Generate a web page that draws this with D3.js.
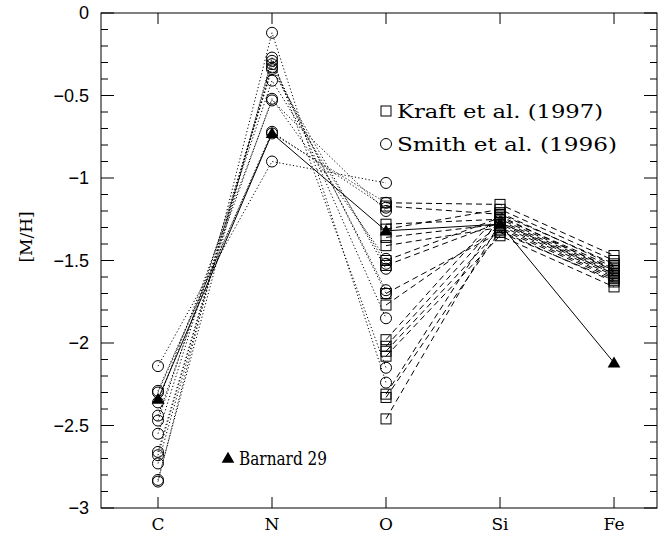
<!DOCTYPE html>
<html>
<head>
<meta charset="utf-8">
<script src="https://cdn.jsdelivr.net/npm/d3@7"></script>
<style>
  html, body { margin: 0; padding: 0; background: #fff; }
  svg { display: block; }
</style>
</head>
<body>
<svg id="chart" width="668" height="533"></svg>
<script>
// Elements along the x axis
const elements = ["C", "N", "O", "Si", "Fe"];

// Y axis ticks
const yMajorTicks = [0, -0.5, -1, -1.5, -2, -2.5, -3];
const yTickLabels = ["0", "\u22120.5", "\u22121", "\u22121.5", "\u22122", "\u22122.5", "\u22123"];

// Smith et al. (1996): [C/H], [N/H], [O/H] per star
const smithC = [-2.14, -2.29, -2.30, -2.36, -2.44, -2.47, -2.55, -2.66, -2.68, -2.73, -2.83, -2.84];
const smithN = [-0.90, -0.73, -0.72, -0.53, -0.52, -0.41, -0.34, -0.33, -0.31, -0.29, -0.27, -0.12];
const smithO = [-1.03, -1.15, -1.18, -1.20, -1.49, -1.52, -1.55, -1.68, -1.70, -1.85, -2.15, -2.24];

// Kraft et al. (1997): [O/H], [Si/H], [Fe/H] per star
const kraftO  = [-1.15, -1.17, -1.28, -1.31, -1.36, -1.41, -1.50, -1.53, -1.70, -1.77, -1.98, -2.02, -2.05, -2.08, -2.31, -2.33, -2.46];
const kraftSi = [-1.16, -1.22, -1.25, -1.19, -1.28, -1.30, -1.24, -1.27, -1.33, -1.29, -1.21, -1.26, -1.31, -1.35, -1.23, -1.32, -1.27];
const kraftFe = [-1.47, -1.52, -1.55, -1.50, -1.58, -1.60, -1.54, -1.57, -1.62, -1.59, -1.53, -1.56, -1.61, -1.66, -1.56, -1.63, -1.58];

// Barnard 29: C, N, O, Si, Fe
const barnard29 = [-2.34, -0.73, -1.32, -1.28, -2.12];

const legendLabels = ["Kraft et al. (1997)", "Smith et al. (1996)", "Barnard 29"];
const yTitle = "[M/H]";

const svg = d3.select("#chart");
const L = 101, R = 657, T = 13, B = 508;

const x = d3.scaleLinear().domain([-0.5, 4.377]).range([L, R]);
const y = d3.scaleLinear().domain([0, -3]).range([T, B]);

const serif = "'DejaVu Serif', 'Liberation Serif', serif";
const sans = "'Liberation Sans', Arial, sans-serif";

const line = d3.line().x(d => x(d[0])).y(d => y(d[1]));

// Smith stars: dotted C-N-O
const smithRows = smithC.map((c, i) => [[0, c], [1, smithN[i]], [2, smithO[i]]]);
svg.append("g").selectAll("path").data(smithRows).join("path")
  .attr("d", line).attr("fill", "none").attr("stroke", "#000")
  .attr("stroke-width", 1).attr("stroke-dasharray", "1.2,2.3");

// Kraft stars: dashed O-Si-Fe
const kraftRows = kraftO.map((o, i) => [[2, o], [3, kraftSi[i]], [4, kraftFe[i]]]);
svg.append("g").selectAll("path").data(kraftRows).join("path")
  .attr("d", line).attr("fill", "none").attr("stroke", "#000")
  .attr("stroke-width", 1).attr("stroke-dasharray", "6,4");

// Barnard 29: solid through all elements
svg.append("path").datum(barnard29.map((v, i) => [i, v]))
  .attr("d", line).attr("fill", "none").attr("stroke", "#000").attr("stroke-width", 1);

// Markers
const circ = (g, cx, cy) => g.append("circle").attr("cx", cx).attr("cy", cy).attr("r", 5.5)
  .attr("fill", "none").attr("stroke", "#000").attr("stroke-width", 1);
const sq = (g, cx, cy) => g.append("rect").attr("x", cx - 5).attr("y", cy - 5)
  .attr("width", 10).attr("height", 10).attr("fill", "none").attr("stroke", "#000").attr("stroke-width", 1);
const tri = (g, cx, cy) => g.append("path")
  .attr("d", d3.symbol(d3.symbolTriangle, 70)())
  .attr("transform", `translate(${cx},${cy + 1})`).attr("fill", "#000");

const mk = svg.append("g");
smithRows.forEach(r => r.forEach(p => circ(mk, x(p[0]), y(p[1]))));
kraftRows.forEach(r => r.forEach(p => sq(mk, x(p[0]), y(p[1]))));
barnard29.forEach((v, i) => tri(mk, x(i), y(v)));

// Frame
svg.append("rect").attr("x", L).attr("y", T).attr("width", R - L).attr("height", B - T)
  .attr("fill", "none").attr("stroke", "#000").attr("stroke-width", 1);

// Tick marks: major every 0.5, minor every 0.1, on both sides; category ticks top and bottom
const minor = d3.range(0, 31).map(i => -i / 10);
const tk = svg.append("g");
minor.forEach(v => {
  const major = Math.abs(Math.round(v * 2) - v * 2) < 1e-6;
  const len = major ? 13 : 7;
  tk.append("line").attr("x1", L).attr("x2", L + len).attr("y1", y(v)).attr("y2", y(v)).attr("stroke", "#000");
  tk.append("line").attr("x1", R).attr("x2", R - len).attr("y1", y(v)).attr("y2", y(v)).attr("stroke", "#000");
});
elements.forEach((e, i) => {
  tk.append("line").attr("x1", x(i)).attr("x2", x(i)).attr("y1", B).attr("y2", B - 11).attr("stroke", "#000");
  tk.append("line").attr("x1", x(i)).attr("x2", x(i)).attr("y1", T).attr("y2", T + 11).attr("stroke", "#000");
});

// Y tick labels
svg.append("g").selectAll("text").data(yMajorTicks).join("text")
  .attr("x", 89).attr("y", d => y(d) + 6)
  .attr("text-anchor", "end").attr("font-family", sans).attr("font-size", 18)
  .text((d, i) => yTickLabels[i]);

// X labels
svg.append("g").selectAll("text").data(elements).join("text")
  .attr("x", (d, i) => x(i)).attr("y", 530).attr("text-anchor", "middle")
  .attr("font-family", serif).attr("font-size", 17).text(d => d);

// Y title
svg.append("text").attr("transform", "translate(32,237) rotate(-90)")
  .attr("text-anchor", "middle").attr("font-family", serif).attr("font-size", 17).text(yTitle);

// Legend
const lg = svg.append("g");
const legText = (tx, ty, str, w, fs) => lg.append("text").attr("x", tx).attr("y", ty)
  .attr("font-family", serif).attr("font-size", fs)
  .attr("textLength", w).attr("lengthAdjust", "spacingAndGlyphs").text(str);
sq(lg, 386, 111);
legText(397, 118, legendLabels[0], 206, 19);
circ(lg, 386, 144);
legText(397, 151, legendLabels[1], 220, 19);
tri(lg, 228, 458);
legText(239, 465, legendLabels[2], 88, 18);
</script>
</body>
</html>
